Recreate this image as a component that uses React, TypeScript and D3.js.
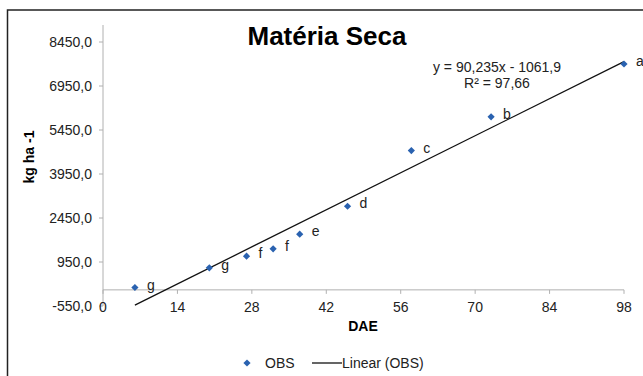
import * as d3 from 'd3'

const DAE = [6, 20, 27, 32, 37, 46, 58, 73, 98]
const OBS = [80, 750, 1150, 1400, 1900, 2850, 4750, 5900, 7700]
const LETTERS = ['g', 'g', 'f', 'f', 'e', 'd', 'c', 'b', 'a']
const X_TICKS = [0, 14, 28, 42, 56, 70, 84, 98]
const Y_TICKS = [-550, 950, 2450, 3950, 5450, 6950, 8450]
const SLOPE = 90.235
const INTERCEPT = -1061.9

const fmt = (v: number) => v.toFixed(1).replace('.', ',')

export default function App() {
  const W = 643
  const H = 376
  const x = d3.scaleLinear().domain([0, 98]).range([103, 624])
  const y = d3.scaleLinear().domain([-550, 8450]).range([306, 42])
  const font = 'Liberation Sans, Arial, sans-serif'
  const axisColor = '#b0b0b0'
  const blue = '#2a62b0'
  // excel-style diamond: a square turned 45 degrees
  const diamond = d3.symbol().type(d3.symbolSquare).size(26)()
  const trend = d3.line<number>()
    .x((d) => x(d))
    .y((d) => y(SLOPE * d + INTERCEPT))([DAE[0], DAE[DAE.length - 1]])

  return (
    <svg width={W} height={H} style={{ position: 'absolute', left: 0, top: 0, background: '#fff' }} fontFamily={font}>
      <rect x={7.5} y={10} width={700} height={420} fill="#fff" stroke="#222" strokeWidth={1.5} />

      <text x={327} y={45} textAnchor="middle" fontSize={26} fontWeight="bold" fill="#000">Matéria Seca</text>

      {/* axes */}
      <line x1={x(0)} x2={x(0)} y1={25} y2={y(-550)} stroke={axisColor} />
      {Y_TICKS.map((t) => (
        <g key={t}>
          <line x1={x(0) - 4} x2={x(0)} y1={y(t)} y2={y(t)} stroke={axisColor} />
          <text x={92} y={y(t) + 5} textAnchor="end" fontSize={14} fill="#222">{fmt(t)}</text>
        </g>
      ))}
      <line x1={x(0)} x2={x(98)} y1={y(0)} y2={y(0)} stroke={axisColor} />
      {X_TICKS.map((t) => (
        <g key={t}>
          <line x1={x(t)} x2={x(t)} y1={y(0)} y2={y(0) + 4} stroke={axisColor} />
          <text x={x(t)} y={312} textAnchor="middle" fontSize={14} fill="#222">{t}</text>
        </g>
      ))}

      <text x={363} y={331} textAnchor="middle" fontSize={14} fontWeight="bold" fill="#000">DAE</text>
      <text transform="translate(34,157) rotate(-90)" textAnchor="middle" fontSize={14} fontWeight="bold" fill="#000">kg ha -1</text>

      {/* trendline */}
      <path d={trend ?? ''} fill="none" stroke="#111" strokeWidth={1.3} />

      {DAE.map((d, i) => (
        <g key={i}>
          <path d={diamond} transform={`translate(${x(d)},${y(OBS[i])}) rotate(45)`} fill={blue} />
          <text x={x(d) + 12} y={y(OBS[i]) + 2} fontSize={14} fill="#222">{LETTERS[i]}</text>
        </g>
      ))}

      <text x={497} y={72} textAnchor="middle" fontSize={14} fill="#222">y = 90,235x - 1061,9</text>
      <text x={497} y={88} textAnchor="middle" fontSize={14} fill="#222">R² = 97,66</text>

      {/* legend */}
      <path d={diamond} transform="translate(247,363) rotate(45)" fill={blue} />
      <text x={265} y={368} fontSize={14} fill="#222">OBS</text>
      <line x1={312} x2={342} y1={363} y2={363} stroke="#111" strokeWidth={1.3} />
      <text x={342} y={368} fontSize={14} fill="#222">Linear (OBS)</text>
    </svg>
  )
}
